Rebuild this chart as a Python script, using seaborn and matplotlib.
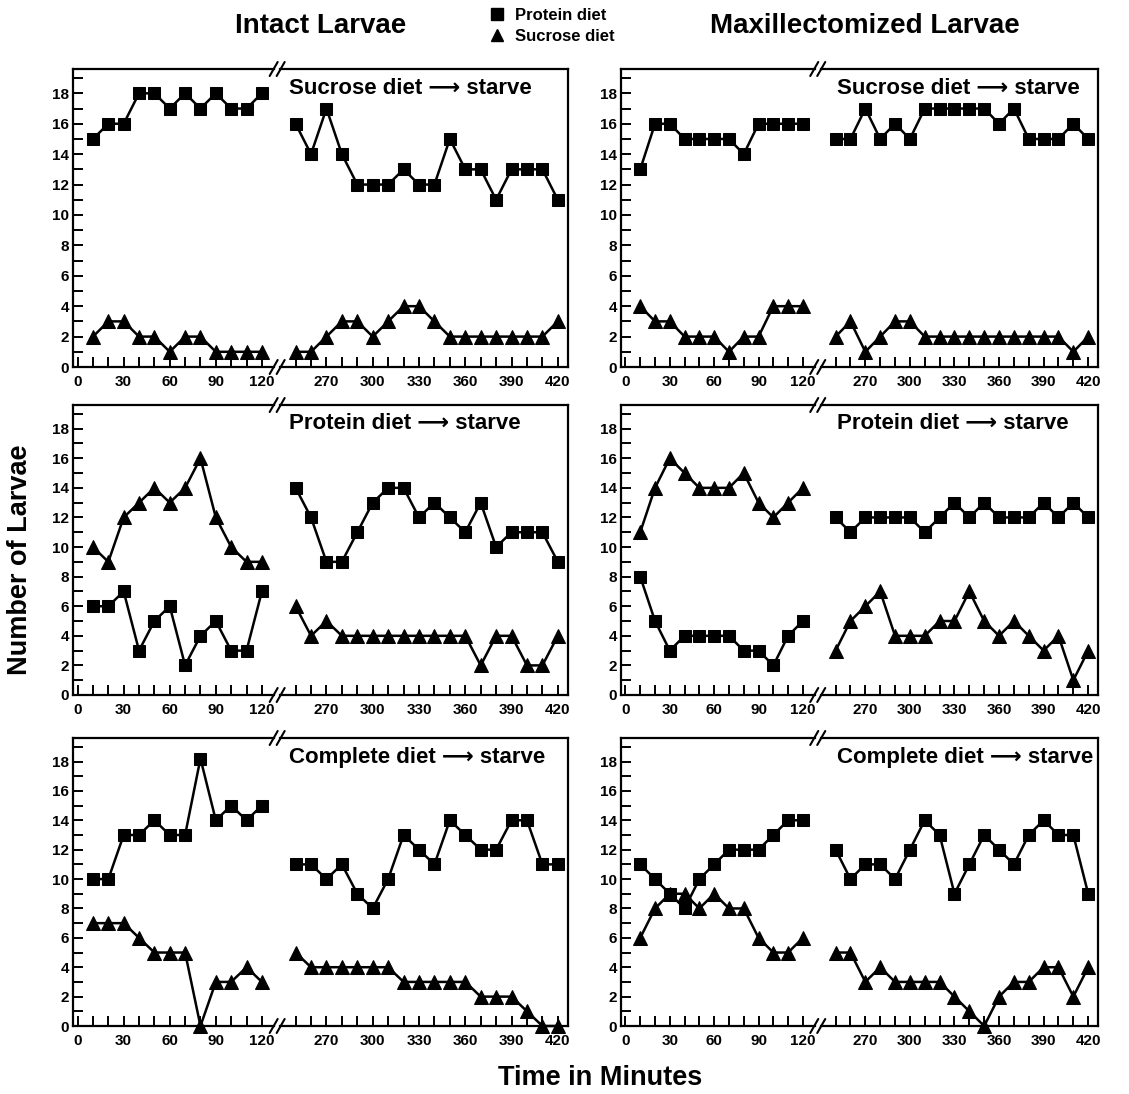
import seaborn as sns
import matplotlib.pyplot as plt
from matplotlib.lines import Line2D

sns.set_style("ticks")
plt.rcParams['font.family'] = ['Liberation Sans', 'DejaVu Sans']
plt.rcParams['font.weight'] = 'bold'
plt.rcParams['text.color'] = 'black'
plt.rcParams['axes.edgecolor'] = 'black'
plt.rcParams['xtick.color'] = 'black'
plt.rcParams['ytick.color'] = 'black'

# time points (minutes), before and after the break
t_early = [10, 20, 30, 40, 50, 60, 70, 80, 90, 100, 110, 120]
t_late = [250, 260, 270, 280, 290, 300, 310, 320, 330, 340, 350, 360, 370, 380, 390, 400, 410, 420]

xticks_early = [0, 30, 60, 90, 120]
xticks_late = [270, 300, 330, 360, 390, 420]
yticks = [0, 2, 4, 6, 8, 10, 12, 14, 16, 18]

col_titles = ["Intact Larvae", "Maxillectomized Larvae"]
row_titles = ["Sucrose diet \u27f6 starve", "Protein diet \u27f6 starve", "Complete diet \u27f6 starve"]

# squares = protein diet, triangles = sucrose diet
# intact larvae, sucrose diet -> starve
int_suc_sq_a = [15, 16, 16, 18, 18, 17, 18, 17, 18, 17, 17, 18]
int_suc_sq_b = [16, 14, 17, 14, 12, 12, 12, 13, 12, 12, 15, 13, 13, 11, 13, 13, 13, 11]
int_suc_tri_a = [2, 3, 3, 2, 2, 1, 2, 2, 1, 1, 1, 1]
int_suc_tri_b = [1, 1, 2, 3, 3, 2, 3, 4, 4, 3, 2, 2, 2, 2, 2, 2, 2, 3]

# maxillectomized larvae, sucrose diet -> starve
max_suc_sq_a = [13, 16, 16, 15, 15, 15, 15, 14, 16, 16, 16, 16]
max_suc_sq_b = [15, 15, 17, 15, 16, 15, 17, 17, 17, 17, 17, 16, 17, 15, 15, 15, 16, 15]
max_suc_tri_a = [4, 3, 3, 2, 2, 2, 1, 2, 2, 4, 4, 4]
max_suc_tri_b = [2, 3, 1, 2, 3, 3, 2, 2, 2, 2, 2, 2, 2, 2, 2, 2, 1, 2]

# intact larvae, protein diet -> starve
int_pro_sq_a = [6, 6, 7, 3, 5, 6, 2, 4, 5, 3, 3, 7]
int_pro_sq_b = [14, 12, 9, 9, 11, 13, 14, 14, 12, 13, 12, 11, 13, 10, 11, 11, 11, 9]
int_pro_tri_a = [10, 9, 12, 13, 14, 13, 14, 16, 12, 10, 9, 9]
int_pro_tri_b = [6, 4, 5, 4, 4, 4, 4, 4, 4, 4, 4, 4, 2, 4, 4, 2, 2, 4]

# maxillectomized larvae, protein diet -> starve
max_pro_sq_a = [8, 5, 3, 4, 4, 4, 4, 3, 3, 2, 4, 5]
max_pro_sq_b = [12, 11, 12, 12, 12, 12, 11, 12, 13, 12, 13, 12, 12, 12, 13, 12, 13, 12]
max_pro_tri_a = [11, 14, 16, 15, 14, 14, 14, 15, 13, 12, 13, 14]
max_pro_tri_b = [3, 5, 6, 7, 4, 4, 4, 5, 5, 7, 5, 4, 5, 4, 3, 4, 1, 3]

# intact larvae, complete diet -> starve
int_com_sq_a = [10, 10, 13, 13, 14, 13, 13, 18.2, 14, 15, 14, 15]
int_com_sq_b = [11, 11, 10, 11, 9, 8, 10, 13, 12, 11, 14, 13, 12, 12, 14, 14, 11, 11]
int_com_tri_a = [7, 7, 7, 6, 5, 5, 5, 0, 3, 3, 4, 3]
int_com_tri_b = [5, 4, 4, 4, 4, 4, 4, 3, 3, 3, 3, 3, 2, 2, 2, 1, 0, 0]

# maxillectomized larvae, complete diet -> starve
max_com_sq_a = [11, 10, 9, 8, 10, 11, 12, 12, 12, 13, 14, 14]
max_com_sq_b = [12, 10, 11, 11, 10, 12, 14, 13, 9, 11, 13, 12, 11, 13, 14, 13, 13, 9]
max_com_tri_a = [6, 8, 9, 9, 8, 9, 8, 8, 6, 5, 5, 6]
max_com_tri_b = [5, 5, 3, 4, 3, 3, 3, 3, 2, 1, 0, 2, 3, 3, 4, 4, 2, 4]

panels = [
    [(int_suc_sq_a, int_suc_sq_b, int_suc_tri_a, int_suc_tri_b),
     (max_suc_sq_a, max_suc_sq_b, max_suc_tri_a, max_suc_tri_b)],
    [(int_pro_sq_a, int_pro_sq_b, int_pro_tri_a, int_pro_tri_b),
     (max_pro_sq_a, max_pro_sq_b, max_pro_tri_a, max_pro_tri_b)],
    [(int_com_sq_a, int_com_sq_b, int_com_tri_a, int_com_tri_b),
     (max_com_sq_a, max_com_sq_b, max_com_tri_a, max_com_tri_b)],
]

W, H = 1129, 1094
fig = plt.figure(figsize=(W / 100, H / 100), dpi=100)

# panel frames in pixels: (left, right) per column, (top, bottom) per row
cols = [(73, 568), (621, 1098)]
rows = [(69, 367), (405, 695), (738, 1026)]
xl_a = (-3, 128)
xl_b = (240, 426.6)
span = (xl_a[1] - xl_a[0]) + (xl_b[1] - xl_b[0])
title_dx = [12, 19]


def slash(xp, yp):
    for dx in (-3.5, 3.5):
        fig.add_artist(Line2D([(xp + dx - 4) / W, (xp + dx + 4) / W],
                              [1 - (yp + 7) / H, 1 - (yp - 7) / H],
                              color='black', lw=1.5, transform=fig.transFigure))


for r, (top, bottom) in enumerate(rows):
    for c, (left, right) in enumerate(cols):
        sq_a, sq_b, tri_a, tri_b = panels[r][c]
        wa = (right - left) * (xl_a[1] - xl_a[0]) / span
        brk = left + wa
        y0 = 1 - bottom / H
        h = (bottom - top) / H
        ax_a = fig.add_axes([left / W, y0, (wa - 3) / W, h])
        ax_b = fig.add_axes([(brk + 3) / W, y0, (right - brk - 3) / W, h])

        for ax, t, sq, tri in ((ax_a, t_early, sq_a, tri_a), (ax_b, t_late, sq_b, tri_b)):
            sns.lineplot(x=t, y=sq, ax=ax, color='black', marker='s', markersize=8,
                         markeredgecolor='black', linewidth=1.8, clip_on=False)
            sns.lineplot(x=t, y=tri, ax=ax, color='black', marker='^', markersize=9.5,
                         markeredgecolor='black', linewidth=1.8, clip_on=False)
            ax.set_ylim(0, 19.6)
            ax.set_xlabel('')
            ax.set_ylabel('')
            ax.set_yticks(yticks)
            ax.set_yticks([v + 1 for v in yticks], minor=True)
            for s in ax.spines.values():
                s.set_linewidth(1.6)
            ax.tick_params(which='both', direction='in', length=7, width=1.4,
                           labelsize=11, pad=3, top=False, right=False)
            ax.tick_params(axis='x', pad=6)

        ax_a.set_xlim(*xl_a)
        ax_a.set_xticks(xticks_early)
        ax_a.set_xticks(t_early, minor=True)
        ax_a.spines['right'].set_visible(False)
        ax_a.set_yticklabels([str(v) for v in yticks], fontweight='bold')
        ax_a.set_xticklabels([str(v) for v in xticks_early], fontweight='bold')

        ax_b.set_xlim(*xl_b)
        ax_b.set_xticks(xticks_late)
        ax_b.set_xticks(t_late, minor=True)
        ax_b.spines['left'].set_visible(False)
        ax_b.tick_params(which='both', left=False, labelleft=False)
        ax_b.set_xticklabels([str(v) for v in xticks_late], fontweight='bold')

        slash(brk, top)
        slash(brk, bottom)

        fig.text((brk + title_dx[c]) / W, 1 - (top + 19) / H, row_titles[r],
                 fontsize=16, fontweight='bold', ha='left', va='center')

fig.text(321 / W, 1 - 26 / H, col_titles[0], fontsize=20, fontweight='bold', ha='center', va='center')
fig.text(865 / W, 1 - 26 / H, col_titles[1], fontsize=20, fontweight='bold', ha='center', va='center')

handles = [Line2D([], [], color='black', marker='s', linestyle='none', markersize=8),
           Line2D([], [], color='black', marker='^', linestyle='none', markersize=9)]
fig.legend(handles, ["Protein diet", "Sucrose diet"], loc='center',
           bbox_to_anchor=(551 / W, 1 - 26 / H), frameon=False, handletextpad=0.5,
           handlelength=1.2, labelspacing=0.35, prop={'weight': 'bold', 'size': 12})

fig.text(20 / W, 1 - 560 / H, "Number of Larvae", rotation=90, fontsize=19.5,
         fontweight='bold', ha='center', va='center')
fig.text(600 / W, 1 - 1078 / H, "Time in Minutes", fontsize=19.5,
         fontweight='bold', ha='center', va='center')

fig.savefig("out.png", dpi=100)
